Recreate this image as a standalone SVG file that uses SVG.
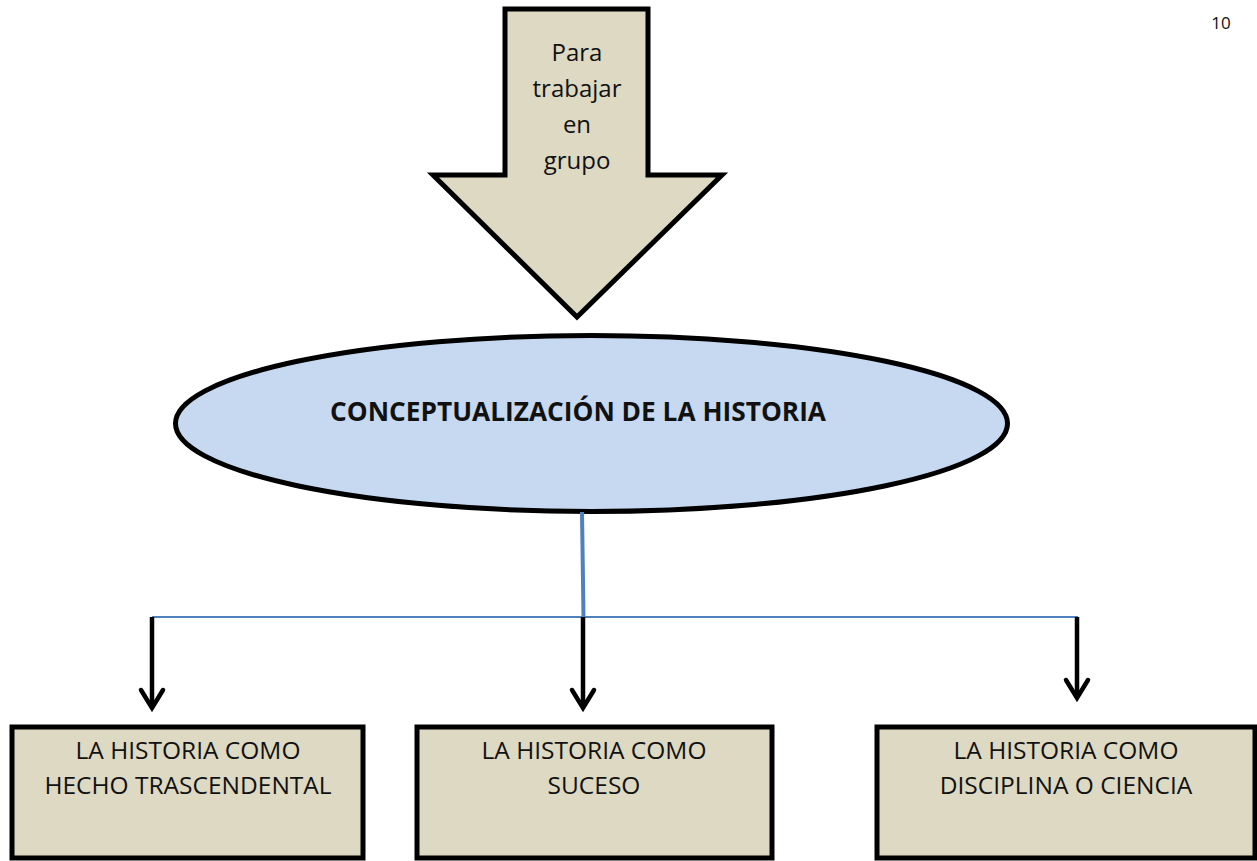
<svg xmlns="http://www.w3.org/2000/svg" width="1257" height="861" viewBox="0 0 1257 861">
<defs>
<style>
.shape{stroke:#000;stroke-width:5;stroke-linejoin:miter}
.tan{fill:#DDD9C3}
.blue{fill:#C6D9F1}
.t{font-family:"Open Sans","Liberation Sans",sans-serif;fill:#111;text-anchor:middle}
.conn{stroke:#4F81BD;fill:none}
.arr{stroke:#000;stroke-width:4.5;fill:none}
.head{stroke:#000;stroke-width:4.5;fill:none;stroke-linecap:round;stroke-linejoin:miter}
</style>
</defs>
<rect width="1257" height="861" fill="#fff"/>
<text class="t" x="1221" y="29" font-size="17">10</text>
<g id="arrow-grupo">
<polygon class="shape tan" points="505,9 648,9 648,175 722,175 577,317 433,175 505,175"/>
<text class="t" font-size="24"><tspan x="577" y="61">Para</tspan><tspan x="577" y="97">trabajar</tspan><tspan x="577" y="133">en</tspan><tspan x="577" y="169">grupo</tspan></text>
</g>
<g id="concepto">
<ellipse class="shape blue" cx="591.5" cy="423.5" rx="416" ry="88" stroke-width="5.5"/>
<text class="t" x="578" y="421" font-size="26" font-weight="bold" textLength="496" lengthAdjust="spacingAndGlyphs">CONCEPTUALIZACIÓN DE LA HISTORIA</text>
</g>
<g id="connectors">
<line class="conn" x1="582" y1="512" x2="583.5" y2="617" stroke-width="4"/>
<line class="conn" x1="152" y1="617" x2="1078" y2="617" stroke-width="2.2"/>
<line class="arr" x1="152" y1="617" x2="152" y2="707"/>
<polyline class="head" points="141,690 152,708 163,690"/>
<line class="arr" x1="583" y1="617" x2="583" y2="707"/>
<polyline class="head" points="572,690 583,708 594,690"/>
<line class="arr" x1="1077" y1="617" x2="1077" y2="697"/>
<polyline class="head" points="1066,680 1077,698 1088,680"/>
</g>
<g id="hecho">
<rect class="shape tan" x="12" y="727" width="351" height="131" stroke-width="4.5"/>
<text class="t" font-size="24.5"><tspan x="188" y="759">LA HISTORIA COMO</tspan><tspan x="188" y="794">HECHO TRASCENDENTAL</tspan></text>
</g>
<g id="suceso">
<rect class="shape tan" x="417" y="727" width="355" height="131" stroke-width="4.5"/>
<text class="t" font-size="24.5"><tspan x="594" y="759">LA HISTORIA COMO</tspan><tspan x="594" y="794">SUCESO</tspan></text>
</g>
<g id="disciplina">
<rect class="shape tan" x="877" y="727" width="378" height="131" stroke-width="4.5"/>
<text class="t" font-size="24.5"><tspan x="1066" y="759">LA HISTORIA COMO</tspan><tspan x="1066" y="794">DISCIPLINA O CIENCIA</tspan></text>
</g>
</svg>
